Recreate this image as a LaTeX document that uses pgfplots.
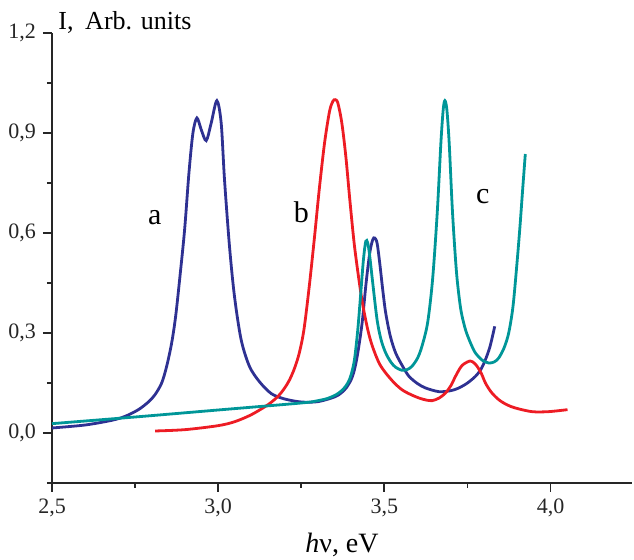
\documentclass[border=0pt]{standalone}
\usepackage{fontspec}
\setmainfont{Liberation Serif}
\usepackage{pgfplots}
\pgfplotsset{compat=1.18}

\definecolor{curveA}{RGB}{46,49,146}
\definecolor{curveB}{RGB}{237,28,36}
\definecolor{curveC}{RGB}{0,150,152}

\begin{document}
\begin{tikzpicture}
\begin{axis}[
  scale only axis,
  width=290pt, height=225pt,
  xmin=2.5, xmax=4.245,
  ymin=-0.15, ymax=1.2,
  axis lines*=left,
  axis line style={line width=0.9pt, black!85},
  every tick/.style={line width=0.9pt, black!85},
  tick align=outside,
  major tick length=4.5pt,
  minor tick length=2.5pt,
  xtick={2.5,3.0,3.5,4.0},
  xticklabels={{2,5},{3,0},{3,5},{4,0}},
  minor xtick={2.75,3.25,3.75},
  ytick={0,0.3,0.6,0.9,1.2},
  yticklabels={{0,0},{0,3},{0,6},{0,9},{1,2}},
  minor ytick={-0.15,0.15,0.45,0.75,1.05},
  tick label style={font=\fontsize{11}{13}\selectfont, black!85},
  clip=false,
  every axis plot/.append style={line width=1.4pt, smooth, no markers},
]

% curve a
\addplot[curveA] coordinates {
(2.500,0.015) (2.600,0.024) (2.680,0.038) (2.720,0.050) (2.760,0.070)
(2.790,0.093) (2.810,0.115) (2.830,0.150) (2.845,0.200) (2.860,0.270)
(2.872,0.350) (2.885,0.470) (2.899,0.610) (2.912,0.780) (2.924,0.900)
(2.936,0.945) (2.949,0.910) (2.964,0.877) (2.979,0.930) (2.996,0.997)
(3.009,0.930) (3.019,0.760) (3.034,0.560) (3.049,0.410) (3.069,0.280)
(3.094,0.200) (3.124,0.154) (3.160,0.118) (3.200,0.102) (3.250,0.093)
(3.300,0.094) (3.350,0.108) (3.370,0.120) (3.385,0.135) (3.400,0.160)
(3.410,0.190) (3.420,0.240) (3.433,0.330) (3.445,0.450) (3.456,0.540)
(3.465,0.580) (3.471,0.585) (3.478,0.570) (3.486,0.510) (3.495,0.430)
(3.504,0.360) (3.518,0.290) (3.534,0.240) (3.555,0.200) (3.574,0.170)
(3.600,0.148) (3.624,0.135) (3.664,0.124) (3.700,0.127) (3.724,0.135)
(3.750,0.150) (3.774,0.170) (3.790,0.190) (3.804,0.220) (3.818,0.260)
(3.832,0.320)
};

% curve b
\addplot[curveB] coordinates {
(2.810,0.006) (2.900,0.010) (3.000,0.022) (3.050,0.034) (3.100,0.055)
(3.150,0.085) (3.180,0.110) (3.200,0.135) (3.215,0.160) (3.230,0.195)
(3.244,0.240) (3.258,0.310) (3.274,0.440) (3.290,0.590) (3.304,0.730)
(3.320,0.870) (3.335,0.965) (3.345,0.995) (3.352,1.000) (3.360,0.990)
(3.372,0.930) (3.384,0.830) (3.396,0.700) (3.409,0.570) (3.422,0.470)
(3.434,0.390) (3.450,0.310) (3.464,0.260) (3.484,0.210) (3.504,0.180)
(3.530,0.150) (3.554,0.129) (3.580,0.115) (3.604,0.105) (3.625,0.099)
(3.644,0.097) (3.665,0.105) (3.684,0.120) (3.700,0.142) (3.714,0.170)
(3.728,0.195) (3.739,0.207) (3.758,0.216) (3.770,0.210) (3.779,0.200)
(3.792,0.178) (3.804,0.150) (3.822,0.122) (3.844,0.100) (3.868,0.085)
(3.894,0.075) (3.944,0.064) (3.994,0.064) (4.051,0.070)
};

% curve c
\addplot[curveC] coordinates {
(2.500,0.028) (2.750,0.048) (3.000,0.069) (3.250,0.090) (3.300,0.097)
(3.330,0.104) (3.355,0.115) (3.375,0.130) (3.390,0.150) (3.400,0.175)
(3.410,0.220) (3.420,0.310) (3.429,0.420) (3.437,0.520) (3.444,0.575)
(3.450,0.570) (3.456,0.530) (3.465,0.450) (3.478,0.340) (3.490,0.280)
(3.504,0.240) (3.520,0.212) (3.534,0.197) (3.553,0.188) (3.568,0.190)
(3.583,0.200) (3.600,0.225) (3.613,0.260) (3.630,0.330) (3.645,0.460)
(3.659,0.660) (3.670,0.870) (3.677,0.970) (3.682,0.997) (3.688,0.970)
(3.695,0.870) (3.704,0.680) (3.712,0.550) (3.719,0.460) (3.730,0.370)
(3.744,0.310) (3.760,0.268) (3.774,0.240) (3.795,0.218) (3.814,0.210)
(3.830,0.213) (3.844,0.225) (3.860,0.255) (3.874,0.300) (3.887,0.380)
(3.899,0.510) (3.908,0.620) (3.916,0.730) (3.924,0.837)
};

\node[font=\fontsize{15}{17}\selectfont] at (axis cs:2.809,0.645) {a};
\node[font=\fontsize{15}{17}\selectfont] at (axis cs:3.250,0.663) {b};
\node[font=\fontsize{15}{17}\selectfont] at (axis cs:3.796,0.708) {c};

\node[anchor=west, font=\fontsize{13}{15}\selectfont, inner sep=0pt]
  at ([xshift=3pt, yshift=5.5pt]rel axis cs:0,1) {I,\hspace{0.45em}Arb. units};
\node[font=\fontsize{14}{16}\selectfont, inner sep=0pt]
  at ([yshift=-31pt]rel axis cs:0.5,0) {\textit{h}ν, eV};

\coordinate (bl) at (rel axis cs:0,0);
\coordinate (tr) at (rel axis cs:1,1);
\end{axis}
\pgfresetboundingbox
\path ([shift={(-26pt,-38.5pt)}]bl) rectangle ([shift={(1pt,16.5pt)}]tr);
\end{tikzpicture}
\end{document}
